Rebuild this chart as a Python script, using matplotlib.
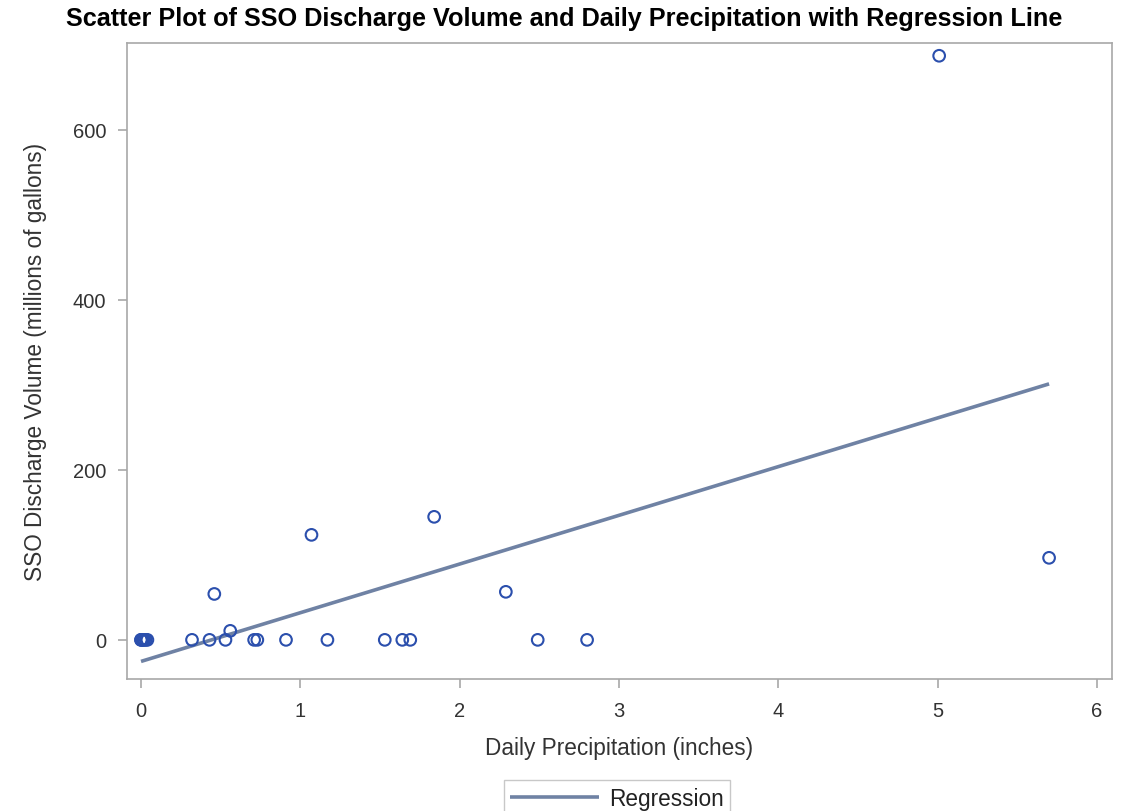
import matplotlib
matplotlib.use("Agg")
import matplotlib.pyplot as plt
import numpy as np

plt.rcParams['font.family'] = ['Liberation Sans', 'DejaVu Sans']

precip = [0.0, 0.0, 0.01, 0.01, 0.02, 0.03, 0.04,
          0.32, 0.43, 0.53, 0.71, 0.73, 0.91, 1.17, 1.53, 1.64, 1.69, 2.49, 2.80,
          0.46, 0.56, 1.07, 1.84, 2.29, 5.01, 5.70]
volume = [0, 0, 0, 0, 0, 0, 0,
          0, 0, 0, 0, 0, 0, 0, 0, 0, 0, 0, 0,
          54, 10.6, 123.5, 144.7, 56.5, 687, 96.5]
xticks = [0, 1, 2, 3, 4, 5, 6]
yticks = [0, 200, 400, 600]

x = np.array(precip)
y = np.array(volume)
slope, intercept = np.polyfit(x, y, 1)
xl = np.array([x.min(), x.max()])

fig = plt.figure(figsize=(11.27, 8.12), dpi=100)
ax = fig.add_axes([0.1127, 0.1626, 0.874, 0.7832])

line, = ax.plot(xl, intercept + slope * xl, color='#6f82a4', lw=2.6,
                label='Regression', zorder=2, solid_capstyle='butt')
ax.scatter(x, y, s=70, facecolors='none', edgecolors='#2b4fad',
           linewidths=1.5, zorder=3)

ax.set_xlim(-0.088, 6.095)
ax.set_ylim(-46, 702)
ax.set_xticks(xticks)
ax.set_yticks(yticks)
for s in ax.spines.values():
    s.set_color('#a8a8a8')
    s.set_linewidth(1.2)
ax.tick_params(colors='#a8a8a8', labelcolor='#333333', labelsize=14.5,
               length=6.5, width=1.2)
ax.tick_params(axis='x', pad=9.5)
ax.tick_params(axis='y', pad=8.5)
ax.set_xlabel('Daily Precipitation (inches)', fontsize=16.3, color='#333333', va='center')
ax.xaxis.set_label_coords(0.5, -0.108)
ax.set_ylabel('SSO Discharge Volume (millions of gallons)', fontsize=16.3,
              color='#333333', va='center')
ax.yaxis.set_label_coords(-0.0934, 0.5)
fig.text(0.501, 0.976,
         'Scatter Plot of SSO Discharge Volume and Daily Precipitation with Regression Line',
         fontsize=18.2, fontweight='bold', ha='center', va='center')

leg = fig.legend(handles=[line], loc='lower center', bbox_to_anchor=(0.5475, -0.0155),
                 frameon=True, fontsize=16.3, fancybox=False, handlelength=3.9,
                 handletextpad=0.45, borderpad=0.3, borderaxespad=0.3,
                 edgecolor='#bbbbbb')
leg.get_frame().set_linewidth(1.0)
for t in leg.get_texts():
    t.set_color('#222222')

fig.savefig('out.png', dpi=100)
